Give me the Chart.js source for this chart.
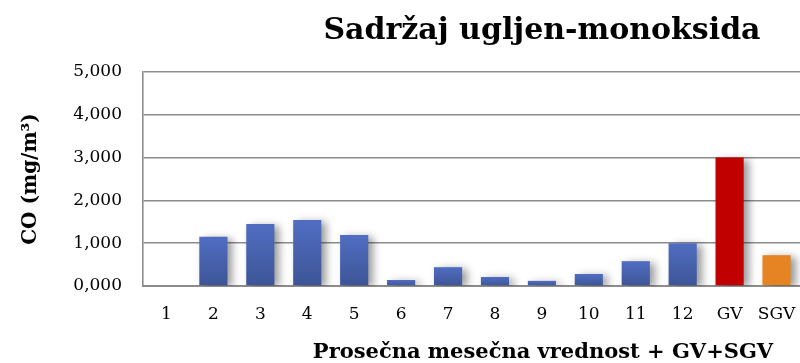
<!DOCTYPE html>
<html>
<head>
<meta charset="utf-8">
<script src="https://cdn.jsdelivr.net/npm/chart.js@4/dist/chart.umd.min.js"></script>
<style>
  html, body { margin: 0; padding: 0; background: #fff; }
  #wrap { width: 800px; height: 363px; }
</style>
</head>
<body>
<div id="wrap"><canvas id="coChart"></canvas></div>
<script>
// mesečne vrednosti CO + granična (GV) i sredna granična vrednost (SGV)
const kategorije = ['1', '2', '3', '4', '5', '6', '7', '8', '9', '10', '11', '12', 'GV', 'SGV'];
const vrednosti = [0, 1.15, 1.45, 1.54, 1.19, 0.14, 0.44, 0.21, 0.12, 0.28, 0.58, 1.00, 3.00, 0.72];
const yTicks = [0, 1, 2, 3, 4, 5];

const naslov = 'Sadržaj ugljen-monoksida';
const naslovX = 'Prosečna mesečna vrednost + GV+SGV';
const naslovY = 'CO (mg/m³)';

const serif = '"DejaVu Serif", "Liberation Serif", serif';

// plavi stubci imaju svoj gradijent od vrha do dna
function bojaStubca(ctx) {
  const lab = kategorije[ctx.dataIndex];
  if (lab === 'GV') return '#c00000';
  if (lab === 'SGV') return '#e68322';
  const y = ctx.chart.scales.y;
  if (!ctx.chart.chartArea || !y) return '#4a65b5';
  const top = y.getPixelForValue(vrednosti[ctx.dataIndex]);
  const base = y.getPixelForValue(0);
  if (!isFinite(top) || base - top < 1) return '#4a65b5';
  const g = ctx.chart.ctx.createLinearGradient(0, top, 0, base);
  g.addColorStop(0, '#506dc2');
  g.addColorStop(1, '#3d5596');
  return g;
}

// senka iza stubaca
const senka = {
  id: 'senka',
  beforeDatasetsDraw(chart) {
    const c = chart.ctx;
    c.save();
    c.shadowColor = 'rgba(0,0,0,0.4)';
    c.shadowBlur = 8;
    c.shadowOffsetX = 5;
    c.shadowOffsetY = 2;
  },
  afterDatasetsDraw(chart) {
    chart.ctx.restore();
  }
};

// naslovi grafika i x ose
const naslovi = {
  id: 'naslovi',
  afterDraw(chart) {
    const c = chart.ctx;
    c.save();
    c.fillStyle = '#000';
    c.textAlign = 'center';
    c.textBaseline = 'middle';
    c.font = 'bold 30px ' + serif;
    c.fillText(naslov, 542, 31);
    c.font = 'bold 21px ' + serif;
    c.fillText(naslovX, 543, 353);
    c.restore();
  }
};

new Chart(document.getElementById('coChart'), {
  type: 'bar',
  data: {
    labels: kategorije,
    datasets: [{
      data: vrednosti,
      backgroundColor: bojaStubca,
      borderWidth: 0,
      barPercentage: 0.6,
      categoryPercentage: 1
    }]
  },
  options: {
    responsive: true,
    maintainAspectRatio: false,
    animation: false,
    layout: { padding: { top: 72, right: 0, left: 0, bottom: 0 } },
    plugins: {
      legend: { display: false },
      tooltip: { enabled: false }
    },
    scales: {
      x: {
        grid: { display: false, drawTicks: false },
        border: { display: true, color: '#8c8c8c', width: 2 },
        ticks: { color: '#000', font: { family: serif, size: 17 }, padding: 18, maxRotation: 0 },
        afterFit(s) {
          s.height = 77;
          s.paddingLeft = 0;
          s.paddingRight = 0;
        }
      },
      y: {
        min: 0,
        max: 5,
        afterBuildTicks(s) { s.ticks = yTicks.map(v => ({ value: v })); },
        grid: { color: '#8c8c8c', lineWidth: 1.6, drawTicks: false },
        border: { display: true, color: '#8c8c8c', width: 1.6 },
        ticks: {
          color: '#000',
          font: { family: serif, size: 17 },
          padding: 21,
          callback: v => v.toFixed(3).replace('.', ',')
        },
        title: {
          display: true,
          text: naslovY,
          color: '#000',
          font: { family: serif, size: 20, weight: 'bold' },
          padding: { top: 19, bottom: 0 }
        },
        afterFit(s) { s.width = 143; }
      }
    }
  },
  plugins: [senka, naslovi]
});
</script>
</body>
</html>
